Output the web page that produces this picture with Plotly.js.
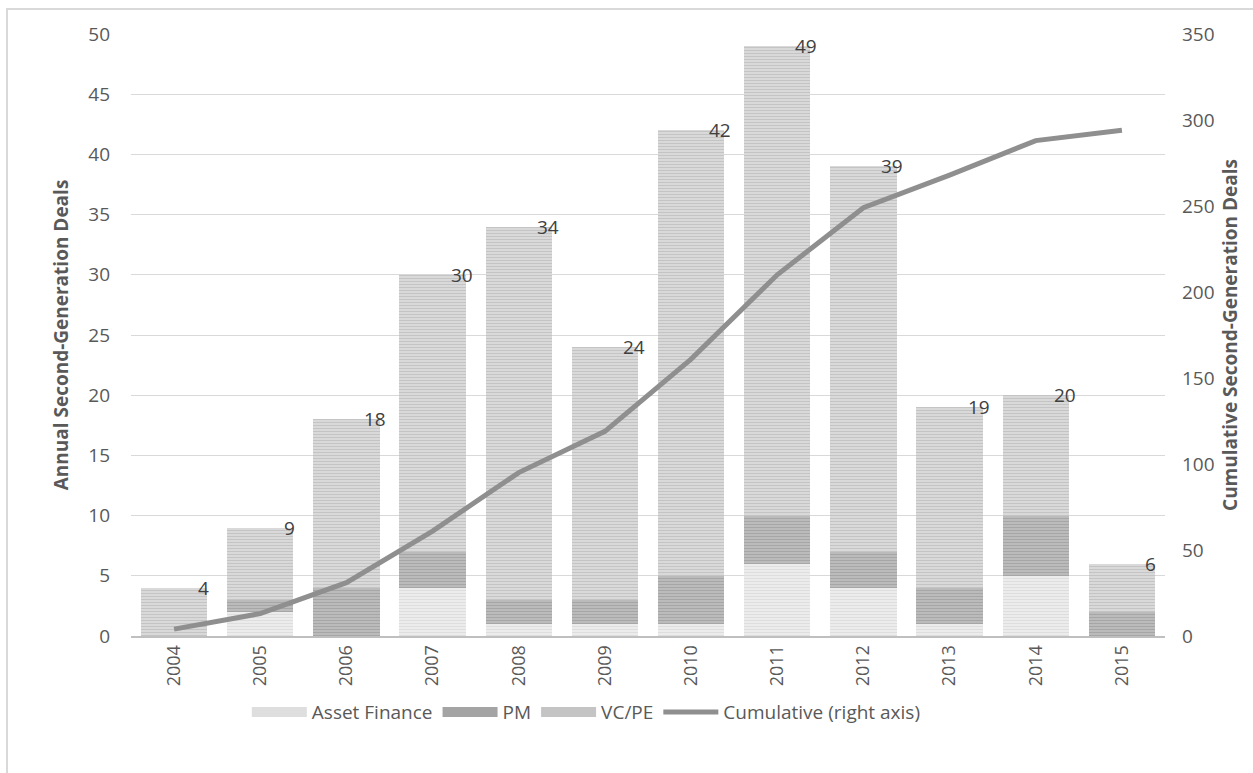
<!DOCTYPE html>
<html><head><meta charset="utf-8">
<script src="https://cdn.plot.ly/plotly-3.0.1.min.js"></script>
<style>html,body{margin:0;padding:0;background:#fff;}
#wrap{position:relative;width:1253px;height:773px;overflow:hidden;}
#chart{width:1253px;height:773px;}
#frame{position:absolute;left:6px;top:8px;width:1260px;height:800px;border-left:2px solid #d9d9d9;border-top:2px solid #d9d9d9;pointer-events:none;}
</style></head>
<body><div id="wrap"><div id="chart"></div><div id="frame"></div></div>
<script>
const years = ['2004','2005','2006','2007','2008','2009','2010','2011','2012','2013','2014','2015'];
const assetFinance = [0,2,0,4,1,1,1,6,4,1,5,0];
const pm = [0,1,4,3,2,2,4,4,3,3,5,2];
const vcpe = [4,6,14,23,31,21,37,39,32,15,10,4];
const totals = [4,9,18,30,34,24,42,49,39,19,20,6];
const cumulative = [4,13,31,61,95,119,161,210,249,268,288,294];

const font = "'Open Sans', sans-serif";
const styles = {
  'Asset Finance': {fg:'#cccccc', bg:'#f0f0f0', leg:'#dedede'},
  'PM': {fg:'#8a8a8a', bg:'#c2c2c2', leg:'#a4a4a4'},
  'VC/PE': {fg:'#a8a8a8', bg:'#e0e0e0', leg:'#c4c4c4'}
};
function barTrace(name, vals){
  const s = styles[name];
  return {type:'bar', name:name, x:years, y:vals, showlegend:false,
    marker:{color:s.bg, line:{width:0}, pattern:{shape:'-', fgcolor:s.fg, bgcolor:s.bg, size:3, solidity:0.5, fillmode:'overlay'}}};
}
function legendTrace(name){
  return {type:'scatter', mode:'lines', name:name, x:[null], y:[null], line:{color:styles[name].leg, width:12}};
}
const traces = [
  barTrace('Asset Finance', assetFinance),
  barTrace('PM', pm),
  barTrace('VC/PE', vcpe),
  legendTrace('Asset Finance'), legendTrace('PM'), legendTrace('VC/PE'),
  {type:'scatter', mode:'lines', name:'Cumulative (right axis)', x:years, y:cumulative, yaxis:'y2',
   line:{color:'#8f8f8f', width:5}}
];
const annotations = years.map((yr,i)=>({x:i, y:totals[i], xref:'x', yref:'y', text:String(totals[i]),
  showarrow:false, xshift:29, yshift:0, font:{family:font, size:19, color:'#404040'}}));

const layout = {
  width:1253, height:773, barmode:'stack', bargap:0.23,
  margin:{l:131, r:88, t:34, b:137, autoexpand:false},
  paper_bgcolor:'#fff', plot_bgcolor:'#fff',
  font:{family:font, size:18, color:'#595959'},
  xaxis:{type:'category', range:[-0.5,11.5], tickangle:-90, tickfont:{size:18, color:'#595959'}, showgrid:false,
    showline:true, linecolor:'#bfbfbf', linewidth:2, ticks:'', ticklen:0},
  yaxis:{range:[0,50], dtick:5, showgrid:true, gridcolor:'#d9d9d9', gridwidth:1, zeroline:false,
    tickfont:{size:19, color:'#595959'}, ticks:'', ticklabelstandoff:20,
    title:{text:'<b>Annual Second-Generation Deals</b>', font:{size:19, color:'#595959'}, standoff:14}},
  yaxis2:{range:[0,350], dtick:50, overlaying:'y', side:'right', showgrid:false, zeroline:false,
    tickfont:{size:19, color:'#595959'}, ticklabelstandoff:16,
    title:{text:'<b>Cumulative Second-Generation Deals</b>', font:{size:19, color:'#595959'}, standoff:10}},
  legend:{orientation:'h', x:0.112, xanchor:'left', y:-0.095, yanchor:'top',
    font:{size:19, color:'#595959'}, itemwidth:55, traceorder:'normal'},
  annotations:annotations,
  showlegend:true
};
Plotly.newPlot('chart', traces, layout, {displayModeBar:false, staticPlot:true});
</script></body></html>
